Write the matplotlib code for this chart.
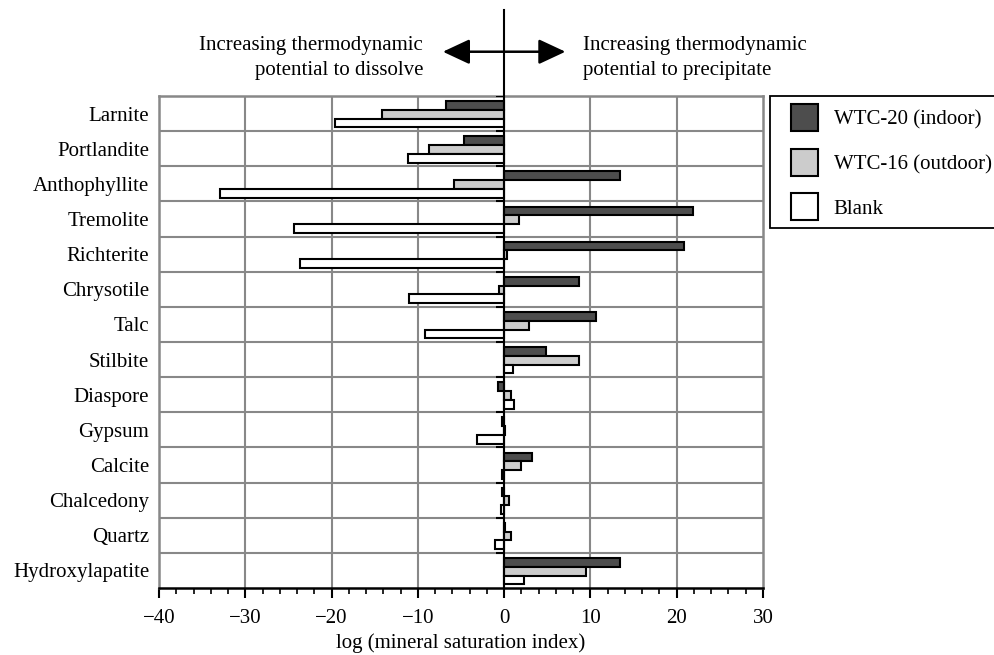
import numpy as np
import matplotlib
matplotlib.use("Agg")
import matplotlib.pyplot as plt
from matplotlib.patches import Patch, Rectangle
from matplotlib.legend_handler import HandlerPatch

plt.rcParams['font.family'] = ['Liberation Serif', 'DejaVu Serif']
plt.rcParams['font.size'] = 15

minerals = ["Larnite", "Portlandite", "Anthophyllite", "Tremolite", "Richterite",
            "Chrysotile", "Talc", "Stilbite", "Diaspore", "Gypsum", "Calcite",
            "Chalcedony", "Quartz", "Hydroxylapatite"]

wtc20 = [-6.7, -4.6, 13.4, 21.9, 20.9, 8.7, 10.7, 4.8, -0.75, -0.2, 3.25, -0.2, 0.08, 13.4]
wtc16 = [-14.1, -8.7, -5.8, 1.75, 0.35, -0.6, 2.9, 8.7, 0.8, 0.1, 1.9, 0.55, 0.8, 9.5]
blank = [-19.6, -11.1, -32.9, -24.3, -23.7, -11.0, -9.2, 1.05, 1.1, -3.2, -0.3, -0.35, -1.1, 2.3]

series_names = ["WTC-20 (indoor)", "WTC-16 (outdoor)", "Blank"]
colors = ["#4d4d4d", "#cccccc", "#ffffff"]

fig = plt.figure(figsize=(9.94, 6.55), dpi=100)
ax = fig.add_axes([159/994, 1-588/655, (763-159)/994, (588-96)/655])

y = np.arange(len(minerals))
h = 0.25
for k, vals in enumerate([wtc20, wtc16, blank]):
    ax.barh(y + (k-1)*h + 0.02, vals, height=h, color=colors[k],
            edgecolor="black", linewidth=1.5, zorder=3)

ax.set_xlim(-40, 30)
ax.set_ylim(len(minerals)-0.5, -0.5)
ax.set_xticks(np.arange(-40, 31, 10))
ax.set_xticks(np.arange(-40, 31, 2), minor=True)
ax.set_yticks(y)
ax.set_yticklabels(minerals)
ax.tick_params(axis='y', length=0, pad=7)
ax.tick_params(axis='x', which='major', length=7, width=1.5, direction='out', pad=8)
ax.tick_params(axis='x', which='minor', length=4, width=1.2, direction='out')

# grid
for xv in np.arange(-30, 30, 10):
    ax.axvline(xv, color="#888888", lw=1.5, zorder=1)
bounds = np.arange(-0.5, len(minerals)-0.5, 1.0)
for b in bounds[1:]:
    ax.axhline(b, color="#888888", lw=1.5, zorder=1)
ax.hlines(bounds, -1, 0, colors="black", lw=1.5, zorder=4)

for s in ["top", "left", "right"]:
    ax.spines[s].set_color("#888888")
    ax.spines[s].set_linewidth(1.8)
ax.spines["bottom"].set_linewidth(1.8)

# zero line extending above plot
ax.axvline(0, ymin=0, ymax=(588-10)/492, color="black", lw=1.5, clip_on=False, zorder=5)

ax.set_xlabel("log (mineral saturation index)", labelpad=4)

# direction arrow and notes
ax.annotate("", xy=(-7.1, 1.090), xytext=(7.1, 1.090),
            xycoords=('data', 'axes fraction'), textcoords=('data', 'axes fraction'),
            arrowprops=dict(arrowstyle="<|-|>,head_length=0.75,head_width=0.35",
                            color="black", lw=1.8, mutation_scale=22,
                            shrinkA=0, shrinkB=0),
            annotation_clip=False)
ax.text(-9.4, 1.077, "Increasing thermodynamic\npotential to dissolve",
        transform=ax.get_xaxis_transform(), ha="right", va="center",
        multialignment="right", linespacing=1.45)
ax.text(9.1, 1.077, "Increasing thermodynamic\npotential to precipitate",
        transform=ax.get_xaxis_transform(), ha="left", va="center",
        multialignment="left", linespacing=1.45)


def square_patch(legend, orig_handle, xdescent, ydescent, width, height, fontsize):
    return Rectangle((width - height - xdescent, -ydescent), height, height)


handles = [Patch(facecolor=c, edgecolor="black", linewidth=1.5) for c in colors]
leg = fig.legend(handles, series_names, loc="upper left",
                 bbox_to_anchor=(770/994, 1-96/655), borderaxespad=0,
                 handlelength=1.9, handleheight=1.6, labelspacing=0.85,
                 handletextpad=0.75, borderpad=0.4, fancybox=False,
                 edgecolor="black", framealpha=1,
                 handler_map={Patch: HandlerPatch(patch_func=square_patch)})
leg.get_frame().set_linewidth(1.3)

fig.savefig("out.png", dpi=100)
